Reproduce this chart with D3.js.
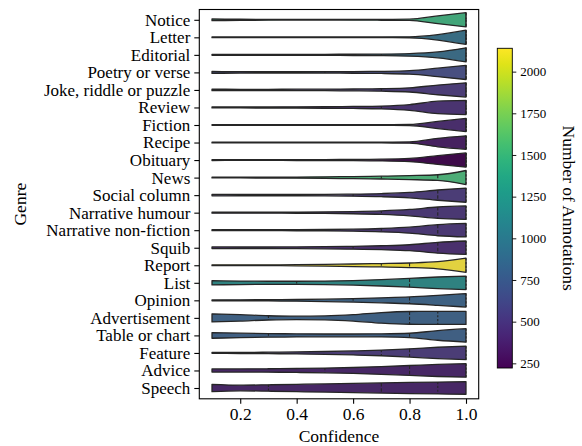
<!DOCTYPE html>
<html><head><meta charset="utf-8">
<script src="https://cdn.jsdelivr.net/npm/d3@7"></script>
<style>body{margin:0;background:#fff}svg{display:block}text{font-family:"Liberation Serif","Times New Roman",serif}</style>
</head><body>
<svg id="c" width="582" height="446"></svg>
<script>
const genres = ["Notice","Letter","Editorial","Poetry or verse","Joke, riddle or puzzle","Review","Fiction","Recipe","Obituary","News","Social column","Narrative humour","Narrative non-fiction","Squib","Report","List","Opinion","Advertisement","Table or chart","Feature","Advice","Speech"];
const counts = [1480,930,890,640,510,450,414,340,222,1540,510,470,470,430,2140,1180,820,800,790,510,375,375];
const q1 = [0.7,1.0,0.7,0.5,0.7,0.7,1.0,1.0,1.0,0.7,0.6,0.7,0.7,0.6,0.7,0.4,0.6,0.3,0.3,0.7,0.5,0.3];
const medians = [1.0,1.0,1.0,1.0,1.0,1.0,1.0,1.0,1.0,0.9,0.9,0.9,0.9,0.9,0.8,0.8,0.8,0.8,0.8,0.8,0.8,0.7];
const q3 = [1.0,1.0,1.0,1.0,1.0,1.0,1.0,1.0,1.0,1.0,1.0,1.0,1.0,1.0,1.0,1.0,1.0,0.9,1.0,1.0,1.0,0.9];
const confLevels = [0.1,0.2,0.3,0.4,0.5,0.6,0.7,0.8,0.9,1.0];
// relative half-width of each violin at each confidence level
const violinWidths = [
 [0.12,0.08,0.05,0.04,0.04,0.05,0.06,0.09,0.55,1.0],
 [0.05,0.05,0.05,0.05,0.05,0.05,0.05,0.07,0.38,1.0],
 [0.07,0.06,0.06,0.07,0.08,0.09,0.11,0.18,0.42,1.0],
 [0.14,0.10,0.09,0.09,0.10,0.12,0.15,0.25,0.60,1.0],
 [0.10,0.09,0.09,0.10,0.11,0.13,0.17,0.29,0.68,1.0],
 [0.07,0.07,0.08,0.09,0.11,0.14,0.20,0.40,0.88,1.0],
 [0.05,0.05,0.05,0.05,0.05,0.05,0.05,0.07,0.50,0.92],
 [0.05,0.05,0.05,0.05,0.05,0.05,0.06,0.09,0.60,0.95],
 [0.06,0.05,0.05,0.06,0.07,0.09,0.12,0.23,0.62,1.0],
 [0.05,0.05,0.06,0.08,0.11,0.15,0.20,0.28,0.40,1.0],
 [0.10,0.09,0.09,0.09,0.10,0.14,0.22,0.38,0.72,1.0],
 [0.07,0.07,0.07,0.08,0.10,0.15,0.25,0.45,0.80,0.95],
 [0.07,0.07,0.07,0.08,0.10,0.14,0.24,0.42,0.78,0.95],
 [0.12,0.11,0.11,0.12,0.15,0.20,0.28,0.42,0.76,0.95],
 [0.06,0.06,0.06,0.08,0.12,0.18,0.24,0.32,0.50,1.0],
 [0.30,0.25,0.22,0.22,0.25,0.32,0.45,0.62,0.82,0.95],
 [0.06,0.07,0.09,0.12,0.17,0.24,0.35,0.48,0.70,0.95],
 [0.57,0.45,0.30,0.24,0.28,0.45,0.75,0.90,0.92,0.92],
 [0.40,0.32,0.25,0.22,0.20,0.20,0.22,0.30,0.68,0.95],
 [0.06,0.08,0.10,0.14,0.20,0.28,0.40,0.58,0.80,0.95],
 [0.22,0.22,0.24,0.28,0.33,0.42,0.55,0.70,0.85,0.95],
 [0.52,0.40,0.45,0.52,0.58,0.65,0.72,0.78,0.84,0.88]
];
const xTicks = [0.2,0.4,0.6,0.8,1.0];
const cbTicks = [250,500,750,1000,1250,1500,1750,2000];

const svg = d3.select("#c");
const F = 17;
const x = d3.scaleLinear().domain([0.055,1.045]).range([199.3,478.7]);
const y = d3.scalePoint().domain(genres).range([19.8,388]);
const pTop = 9.5, pBot = 398.8, pLeft = 199.3, pRight = 478.7;
const halfMax = 7.1;
const cExt = [222,2140];
const colorOf = v => { const c = d3.hsl(d3.interpolateViridis((v-cExt[0])/(cExt[1]-cExt[0]))); c.s *= 0.75; return c.formatHex(); };
const edge = "#262626";

// violins
const g = svg.append("g");
genres.forEach((gname,i)=>{
  const yc = y(gname);
  const pts = confLevels.map((c,j)=>({c, w: violinWidths[i][j]}));
  const area = d3.area().x(d=>x(d.c)).y0(d=>yc - d.w*halfMax).y1(d=>yc + d.w*halfMax).curve(d3.curveMonotoneX);
  g.append("path").attr("d", area(pts)).attr("fill", colorOf(counts[i])).attr("stroke", edge).attr("stroke-width",1.3).attr("stroke-linejoin","round");
  [[q1[i],"2.2,1.6"],[medians[i],"3.5,1.8"],[q3[i],"2.2,1.6"]].forEach(([q,dash])=>{
    const j = confLevels.findIndex(c=>Math.abs(c-q)<1e-6);
    const w = violinWidths[i][j]*halfMax;
    g.append("line").attr("x1",x(q)).attr("x2",x(q)).attr("y1",yc-w).attr("y2",yc+w)
      .attr("stroke",edge).attr("stroke-width",1.1).attr("stroke-dasharray",dash);
  });
});

// frame
svg.append("rect").attr("x",pLeft).attr("y",pTop).attr("width",pRight-pLeft).attr("height",pBot-pTop).attr("fill","none").attr("stroke","#000").attr("stroke-width",1.1);

// x axis
const xa = svg.append("g").attr("transform",`translate(0,${pBot})`).call(d3.axisBottom(x).tickValues(xTicks).tickFormat(d3.format(".1f")).tickSize(5).tickPadding(4));
xa.select(".domain").remove();
xa.selectAll("text").attr("font-size",F+0.5).attr("fill","#000").attr("font-family","Liberation Serif");
xa.selectAll("line").attr("stroke","#000").attr("stroke-width",1.1);

// y axis
const ya = svg.append("g").attr("transform",`translate(${pLeft},0)`).call(d3.axisLeft(y).tickSize(5).tickPadding(4));
ya.select(".domain").remove();
ya.selectAll("text").attr("font-size",F).attr("fill","#000").attr("font-family","Liberation Serif");
ya.selectAll("line").attr("stroke","#000").attr("stroke-width",1.1);

svg.append("text").attr("x",(pLeft+pRight)/2).attr("y",442).attr("text-anchor","middle").attr("font-size",F+0.5).text("Confidence");
svg.append("text").attr("transform",`translate(26,${(pTop+pBot)/2}) rotate(-90)`).attr("text-anchor","middle").attr("font-size",F+0.5).text("Genre");

// colorbar
const cbX = 497.3, cbW = 15, cbTop = 48.3, cbBot = 368;
const defs = svg.append("defs");
const grad = defs.append("linearGradient").attr("id","vg").attr("x1",0).attr("y1",1).attr("x2",0).attr("y2",0);
d3.range(0,1.0001,0.05).forEach(t=>grad.append("stop").attr("offset",t).attr("stop-color",d3.interpolateViridis(t)));
svg.append("rect").attr("x",cbX).attr("y",cbTop).attr("width",cbW).attr("height",cbBot-cbTop).attr("fill","url(#vg)").attr("stroke","#000").attr("stroke-width",0.9);
const cy = d3.scaleLinear().domain(cExt).range([cbBot,cbTop]);
const ca = svg.append("g").attr("transform",`translate(${cbX+cbW},0)`).call(d3.axisRight(cy).tickValues(cbTicks).tickSize(4).tickPadding(4).tickFormat(d3.format("d")));
ca.select(".domain").remove();
ca.selectAll("text").attr("font-size",13).attr("fill","#000").attr("font-family","Liberation Serif");
ca.selectAll("line").attr("stroke","#000").attr("stroke-width",0.9);
svg.append("text").attr("transform",`translate(563,${(cbTop+cbBot)/2}) rotate(90)`).attr("text-anchor","middle").attr("font-size",F+0.5).text("Number of Annotations");
</script>
</body></html>
